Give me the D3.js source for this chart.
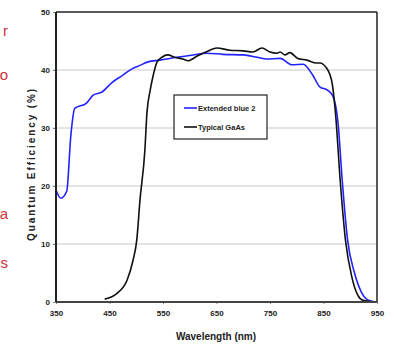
<!DOCTYPE html>
<html>
<head>
<meta charset="utf-8">
<script src="https://cdn.jsdelivr.net/npm/d3@7"></script>
<style>
body { margin: 0; background: #fff; }
svg { display: block; font-family: "Liberation Sans", Arial, sans-serif; }
</style>
</head>
<body>
<svg id="chart" width="394" height="347"></svg>
<script>
// chart data
var blueWl = [350, 359, 370, 378, 385, 407, 420, 436, 454, 473, 492, 507, 522, 544, 576, 606, 632, 662, 700, 726, 744, 769, 791, 812, 830, 843, 858, 868, 877, 885, 895, 908, 922, 937, 950];
var blueQe = [19.3, 17.9, 19.1, 29, 33.4, 34.3, 35.7, 36.2, 37.8, 39, 40.2, 40.8, 41.4, 41.7, 42.2, 42.6, 42.9, 42.7, 42.6, 42.2, 41.9, 42, 40.9, 41, 39.1, 37.1, 36.5, 35.4, 31, 21, 10.7, 5, 1.5, 0.2, 0];
var gaasWl = [441, 464, 483, 494, 501, 507, 516, 520, 526, 531, 539, 548, 559, 572, 587, 597, 614, 628, 651, 675, 700, 718, 735, 750, 763, 769, 778, 787, 802, 819, 837, 843, 856, 866, 872, 882, 891, 903, 914, 924, 950];
var gaasQe = [0.5, 1.5, 3.8, 7.2, 10.7, 17.6, 26, 32.6, 36.5, 38.8, 41.4, 42.2, 42.6, 42.2, 41.9, 41.6, 42.4, 43, 43.8, 43.4, 43.3, 43.1, 43.8, 43.1, 42.9, 43.1, 42.6, 43, 42, 41.7, 41.2, 41.2, 40.3, 37.8, 33, 20, 10.7, 4.3, 1.2, 0.3, 0];
var xTicks = [350, 450, 550, 650, 750, 850, 950];
var yTicks = [0, 10, 20, 30, 40, 50];
var seriesNames = ["Extended blue 2", "Typical GaAs"];
var sideLetters = ["r", "o", "a", "s"];

var svg = d3.select("#chart");
var plotL = 56, plotR = 377, plotT = 12, plotB = 302;

var x = d3.scaleLinear().domain([350, 950]).range([plotL, plotR]);
var y = d3.scaleLinear().domain([0, 50]).range([plotB, plotT]);

// cut-off red text from the slide on the left
var letterY = [36, 80, 219, 268];
svg.selectAll(".side")
	.data(sideLetters)
	.enter()
	.append("text")
	.attr("class", "side")
	.attr("x", 8)
	.attr("y", function(d, i){ return letterY[i]; })
	.style("text-anchor", "end")
	.style("font-size", "15px")
	.style("fill", "#c8323c")
	.text(function(d){ return d; });

// grid
svg.append("g")
	.selectAll("line")
	.data([10, 20, 30, 40])
	.enter()
	.append("line")
	.attr("x1", plotL - 4)
	.attr("x2", plotR)
	.attr("y1", function(d){ return y(d); })
	.attr("y2", function(d){ return y(d); })
	.style("stroke", "#c8c8c8")
	.style("stroke-width", 1);

// axes
var xAxis = svg.append("g")
	.attr("transform", "translate(0," + plotB + ")")
	.call(d3.axisBottom(x).tickValues(xTicks).tickSize(2).tickFormat(d3.format("d")));
xAxis.select(".domain").remove();
xAxis.selectAll("line").style("stroke", "#888");
xAxis.selectAll("text")
	.attr("dy", "1.1em")
	.style("font-size", "8px")
	.style("font-weight", "bold")
	.style("fill", "#222");

var yAxis = svg.append("g")
	.attr("transform", "translate(" + plotL + ",0)")
	.call(d3.axisLeft(y).tickValues(yTicks).tickSize(3));
yAxis.select(".domain").remove();
yAxis.selectAll("line").style("stroke", "#888");
yAxis.selectAll("text")
	.attr("x", -6)
	.attr("dy", "0.35em")
	.style("font-size", "8px")
	.style("font-weight", "bold")
	.style("fill", "#222");

// plot frame
svg.append("line").attr("x1", plotL).attr("x2", plotR).attr("y1", plotT).attr("y2", plotT)
	.style("stroke", "#222").style("stroke-width", 1.5);
svg.append("line").attr("x1", plotR).attr("x2", plotR).attr("y1", plotT).attr("y2", plotB)
	.style("stroke", "#222").style("stroke-width", 1.5);

// curves
var line = d3.line()
	.x(function(d){ return x(d[0]); })
	.y(function(d){ return y(d[1]); })
	.curve(d3.curveMonotoneX);

svg.append("path")
	.datum(d3.zip(blueWl, blueQe))
	.attr("d", line)
	.style("fill", "none")
	.style("stroke", "#2222ff")
	.style("stroke-width", 1.6);

svg.append("path")
	.datum(d3.zip(gaasWl, gaasQe))
	.attr("d", line)
	.style("fill", "none")
	.style("stroke", "#111")
	.style("stroke-width", 1.6);

svg.append("line").attr("x1", plotL).attr("x2", plotR).attr("y1", plotB).attr("y2", plotB)
	.style("stroke", "#444").style("stroke-width", 2);
svg.append("line").attr("x1", plotL).attr("x2", plotL).attr("y1", plotT).attr("y2", plotB)
	.style("stroke", "#222").style("stroke-width", 2);

// axis titles
svg.append("text")
	.attr("x", 216)
	.attr("y", 340)
	.style("text-anchor", "middle")
	.style("font-size", "10px")
	.style("font-weight", "bold")
	.style("fill", "#222")
	.text("Wavelength (nm)");

svg.append("text")
	.attr("transform", "translate(35,164) rotate(-90)")
	.style("text-anchor", "middle")
	.style("font-size", "10px")
	.style("font-weight", "bold")
	.style("letter-spacing", "1.9px")
	.style("fill", "#222")
	.text("Quantum Efficiency (%)");

// legend
var legendGroup = svg.append("g").attr("transform", "translate(174,95)");
legendGroup.append("rect")
	.attr("width", 93)
	.attr("height", 44)
	.style("fill", "#fff")
	.style("stroke", "#222")
	.style("stroke-width", 1.2);

var legendColors = ["#2222ff", "#111"];
var legend = legendGroup.selectAll(".legend")
	.data(seriesNames)
	.enter()
	.append("g")
	.attr("class", "legend")
	.attr("transform", function(d, i){ return "translate(0," + (13 + i * 19) + ")"; });

legend.append("line")
	.attr("x1", 10)
	.attr("x2", 23)
	.style("stroke", function(d, i){ return legendColors[i]; })
	.style("stroke-width", 1.6);

legend.append("text")
	.attr("x", 24)
	.attr("dy", ".35em")
	.style("font-size", "7.5px")
	.style("font-weight", "bold")
	.style("fill", "#222")
	.text(function(d){ return d; });
</script>
</body>
</html>
